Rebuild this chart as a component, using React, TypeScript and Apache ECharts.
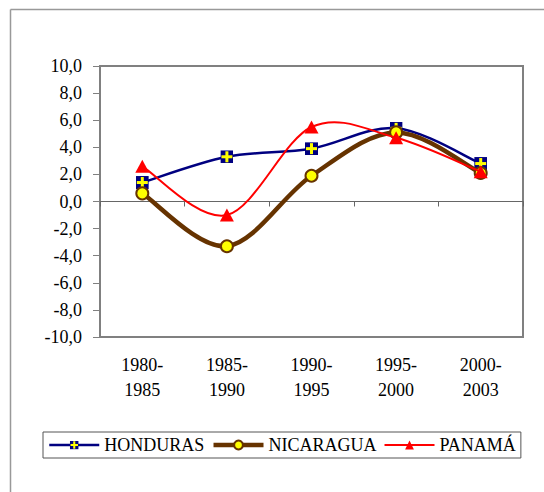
import React, { useEffect, useRef } from "react";
import * as echarts from "echarts";

const categories = ["1980-\n1985", "1985-\n1990", "1990-\n1995", "1995-\n2000", "2000-\n2003"];
const honduras = [1.4, 3.3, 3.9, 5.4, 2.8];
const nicaragua = [0.6, -3.3, 1.9, 5.1, 2.1];
const panama = [2.6, -1.0, 5.5, 4.7, 2.2];
const seriesNames = ["HONDURAS", "NICARAGUA", "PANAMÁ"];

const FONT = "Liberation Serif";
const NAVY = "#000080";
const BROWN = "#663300";
const RED = "#ff0000";
const YELLOW = "#ffff00";

const hondurasSvg =
  "<svg xmlns='http://www.w3.org/2000/svg' width='13' height='13' viewBox='0 0 13 13'>" +
  "<rect width='13' height='13' fill='#000080'/>" +
  "<rect x='5' y='1' width='3' height='11' fill='#ffff00'/>" +
  "<rect x='1' y='5' width='11' height='3' fill='#ffff00'/></svg>";
const hondurasSymbol = "image://data:image/svg+xml;charset=utf-8," + encodeURIComponent(hondurasSvg);

// Excel-like smoothed line (Catmull-Rom style Bezier), drawn through the axis scales via api.coord
function smoothLine(values: number[], color: string, width: number, z: number) {
  return {
    type: "custom",
    coordinateSystem: "cartesian2d",
    xAxisIndex: 0,
    yAxisIndex: 0,
    data: [0],
    silent: true,
    z,
    renderItem: (_params: any, api: any) => {
      const p = values.map((v, i) => api.coord([i, v]));
      let d = `M${p[0][0]},${p[0][1]}`;
      for (let i = 0; i < p.length - 1; i++) {
        const p0 = p[Math.max(i - 1, 0)];
        const p1 = p[i];
        const p2 = p[i + 1];
        const p3 = p[Math.min(i + 2, p.length - 1)];
        const c1x = p1[0] + (p2[0] - p0[0]) / 6;
        const c1y = p1[1] + (p2[1] - p0[1]) / 6;
        const c2x = p2[0] - (p3[0] - p1[0]) / 6;
        const c2y = p2[1] - (p3[1] - p1[1]) / 6;
        d += ` C${c1x},${c1y} ${c2x},${c2y} ${p2[0]},${p2[1]}`;
      }
      return {
        type: "path",
        shape: { pathData: d },
        style: { fill: "none", stroke: color, lineWidth: width, lineJoin: "round", lineCap: "round" },
      };
    },
  };
}

export default function App() {
  const ref = useRef<HTMLDivElement>(null);
  useEffect(() => {
    if (!ref.current) return;
    const chart = echarts.init(ref.current, undefined, { renderer: "svg" });
    chart.setOption({
      animation: false,
      backgroundColor: "#ffffff",
      textStyle: { fontFamily: FONT },
      graphic: [
        { type: "line", shape: { x1: 10.5, y1: 9.5, x2: 544, y2: 9.5 }, style: { stroke: "#999999", lineWidth: 1.5 } },
        { type: "line", shape: { x1: 10.5, y1: 9.5, x2: 10.5, y2: 492 }, style: { stroke: "#999999", lineWidth: 1.5 } },
      ],
      grid: {
        left: 100,
        top: 66,
        right: 21,
        bottom: 155,
        show: true,
        borderColor: "#808080",
        borderWidth: 2,
        backgroundColor: "#ffffff",
      },
      legend: {
        left: 43,
        top: 432,
        orient: "horizontal",
        itemWidth: 50,
        itemHeight: 11,
        itemGap: 7,
        padding: [4, 5, 4, 5],
        borderColor: "#555555",
        borderWidth: 1,
        textStyle: { fontFamily: FONT, fontSize: 18, color: "#000000" },
        data: [
          { name: seriesNames[0], lineStyle: { color: NAVY, width: 2.5, opacity: 1 } },
          { name: seriesNames[1], lineStyle: { color: BROWN, width: 4.5, opacity: 1 } },
          { name: seriesNames[2], lineStyle: { color: RED, width: 2, opacity: 1 } },
        ],
      },
      xAxis: [
        {
          type: "category",
          data: categories,
          boundaryGap: true,
          axisLine: { show: true, onZero: true, lineStyle: { color: "#666666", width: 1 } },
          axisTick: { show: true, length: 5, lineStyle: { color: "#666666" } },
          axisLabel: { show: false },
          splitLine: { show: false },
        },
        {
          type: "category",
          data: categories,
          position: "bottom",
          boundaryGap: true,
          axisLine: { show: false, onZero: false },
          axisTick: { show: false },
          axisLabel: {
            show: true,
            margin: 15,
            lineHeight: 25,
            fontFamily: FONT,
            fontSize: 18,
            color: "#000000",
          },
        },
      ],
      yAxis: {
        type: "value",
        min: -10,
        max: 10,
        interval: 2,
        axisLine: { show: false },
        axisTick: { show: true, length: 7, lineStyle: { color: "#808080" } },
        splitLine: { show: false },
        axisLabel: {
          margin: 18,
          fontFamily: FONT,
          fontSize: 18,
          color: "#000000",
          formatter: (v: number) => v.toFixed(1).replace(".", ","),
        },
      },
      series: [
        smoothLine(honduras, NAVY, 2.5, 2),
        {
          name: seriesNames[0],
          type: "line",
          xAxisIndex: 0,
          data: honduras,
          symbol: hondurasSymbol,
          symbolSize: 13,
          lineStyle: { color: NAVY, width: 0, opacity: 0 },
          itemStyle: { color: NAVY },
          z: 3,
        },
        smoothLine(nicaragua, BROWN, 4.5, 4),
        {
          name: seriesNames[1],
          type: "line",
          xAxisIndex: 0,
          data: nicaragua,
          symbol: "circle",
          symbolSize: 12,
          lineStyle: { color: BROWN, width: 0, opacity: 0 },
          itemStyle: { color: YELLOW, borderColor: BROWN, borderWidth: 2 },
          z: 5,
        },
        smoothLine(panama, RED, 2, 6),
        {
          name: seriesNames[2],
          type: "line",
          xAxisIndex: 0,
          data: panama,
          symbol: "triangle",
          symbolSize: [14, 13],
          lineStyle: { color: RED, width: 0, opacity: 0 },
          itemStyle: { color: RED },
          z: 7,
        },
      ],
    });
    return () => chart.dispose();
  }, []);
  return (
    <div
      ref={ref}
      style={{ position: "fixed", left: 0, top: 0, width: 544, height: 492, background: "#ffffff" }}
    />
  );
}
